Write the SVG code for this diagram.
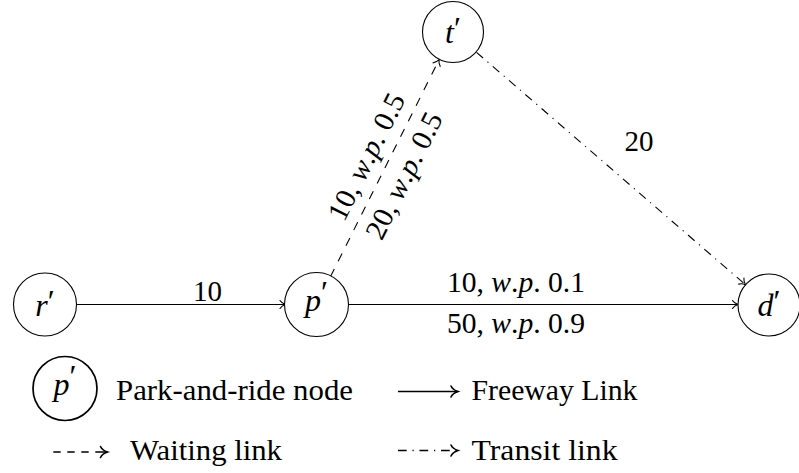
<svg xmlns="http://www.w3.org/2000/svg" width="799" height="473" viewBox="0 0 799 473">
  <defs>
    <!-- curved open arrow tip for graph edges -->
    <marker id="tip" markerUnits="userSpaceOnUse" markerWidth="12" markerHeight="12" refX="0" refY="0" orient="auto" overflow="visible">
      <path d="M-5.5,-4 C-4,-1.5 -1.2,-0.4 0,0 C-1.2,0.4 -4,1.5 -5.5,4" fill="none" stroke="#000" stroke-width="1.1" stroke-linecap="round"/>
    </marker>
    <!-- larger tip for the key arrows -->
    <marker id="tip-key" markerUnits="userSpaceOnUse" markerWidth="16" markerHeight="16" refX="0" refY="0" orient="auto" overflow="visible">
      <path d="M-7,-5.5 C-5.5,-2.2 -1.8,-0.6 0,0 C-1.8,0.6 -5.5,2.2 -7,5.5" fill="none" stroke="#000" stroke-width="1.6" stroke-linecap="round"/>
    </marker>
  </defs>

  <rect width="799" height="473" fill="#fff"/>

  <!-- connectors -->
  <g id="edges" fill="none" stroke="#000" stroke-width="1.1">
    <path id="e-r-p" d="M76,304.5 H285.5" marker-end="url(#tip)"/>
    <path id="e-p-d" d="M347.5,304.5 H738" marker-end="url(#tip)"/>
    <path id="e-p-t" d="M330.4,276.8 L439.1,59.7" stroke-dasharray="8.7 8.7" marker-end="url(#tip)"/>
    <path id="e-t-d" d="M476.5,52.3 L745.5,284.7" stroke-dasharray="8.7 5.8 1.2 5.8" marker-end="url(#tip)"/>
  </g>

  <!-- connector labels -->
  <g id="edge-labels" fill="#000">
    <text font-family="Liberation Serif" font-size="29" x="207.5" y="301" text-anchor="middle">10</text>
    <text font-family="Liberation Serif" font-size="29" x="516" y="291.5" text-anchor="middle" textLength="138" lengthAdjust="spacingAndGlyphs">10, <tspan font-style="italic">w</tspan>.<tspan font-style="italic">p</tspan>. 0.1</text>
    <text font-family="Liberation Serif" font-size="29" x="516" y="333" text-anchor="middle" textLength="138" lengthAdjust="spacingAndGlyphs">50, <tspan font-style="italic">w</tspan>.<tspan font-style="italic">p</tspan>. 0.9</text>
    <g transform="translate(385.5,168) rotate(-63.4)">
      <text font-family="Liberation Serif" font-size="29" x="1.5" y="-12.5" text-anchor="middle" textLength="138" lengthAdjust="spacingAndGlyphs">10, <tspan font-style="italic">w</tspan>.<tspan font-style="italic">p</tspan>. 0.5</text>
      <text font-family="Liberation Serif" font-size="29" x="1.5" y="29.5" text-anchor="middle" textLength="138" lengthAdjust="spacingAndGlyphs">20, <tspan font-style="italic">w</tspan>.<tspan font-style="italic">p</tspan>. 0.5</text>
    </g>
    <text font-family="Liberation Serif" font-size="29" x="639" y="151" text-anchor="middle">20</text>
  </g>

  <!-- nodes -->
  <g id="nodes" text-anchor="middle">
    <g id="node-r">
      <circle cx="45" cy="304.5" r="31.5" fill="#fff" stroke="#000" stroke-width="1.1"/>
      <text font-family="Liberation Serif" font-size="32" x="45" y="316"><tspan font-style="italic">r</tspan><tspan dy="-4">&#8242;</tspan></text>
    </g>
    <g id="node-p">
      <circle cx="316.5" cy="304.5" r="32" fill="#fff" stroke="#000" stroke-width="1.1"/>
      <text font-family="Liberation Serif" font-size="32" x="316.5" y="311"><tspan font-style="italic">p</tspan><tspan dy="-8">&#8242;</tspan></text>
    </g>
    <g id="node-t">
      <circle cx="453" cy="32" r="30.5" fill="#fff" stroke="#000" stroke-width="1.1"/>
      <text font-family="Liberation Serif" font-size="32" x="453" y="43"><tspan font-style="italic">t</tspan><tspan dy="-4">&#8242;</tspan></text>
    </g>
    <g id="node-d">
      <circle cx="769" cy="305" r="31" fill="#fff" stroke="#000" stroke-width="1.1"/>
      <text font-family="Liberation Serif" font-size="32" x="769" y="316"><tspan font-style="italic">d</tspan><tspan dy="-4">&#8242;</tspan></text>
    </g>
  </g>

  <!-- key -->
  <g id="key">
    <g id="key-node">
      <circle cx="65" cy="388.5" r="32" fill="#fff" stroke="#000" stroke-width="1.7"/>
      <text font-family="Liberation Serif" font-size="32" x="65" y="395" text-anchor="middle"><tspan font-style="italic">p</tspan><tspan dy="-8">&#8242;</tspan></text>
      <text font-family="Liberation Serif" font-size="29" x="116" y="400" textLength="237" lengthAdjust="spacingAndGlyphs">Park-and-ride node</text>
    </g>
    <g id="key-freeway">
      <path d="M398,391.5 H458" fill="none" stroke="#000" stroke-width="1.6" marker-end="url(#tip-key)"/>
      <text font-family="Liberation Serif" font-size="29" x="471.5" y="399.5" textLength="166" lengthAdjust="spacingAndGlyphs">Freeway Link</text>
    </g>
    <g id="key-waiting">
      <path d="M53.3,452 H60.7 M67.3,452 H74.7 M81.3,452 H88.7 M95.3,452 H107.5" fill="none" stroke="#000" stroke-width="1.6" marker-end="url(#tip-key)"/>
      <text font-family="Liberation Serif" font-size="29" x="130" y="459.5" textLength="152" lengthAdjust="spacingAndGlyphs">Waiting link</text>
    </g>
    <g id="key-transit">
      <path d="M398,450.5 H458" fill="none" stroke="#000" stroke-width="1.6" stroke-dasharray="8.7 5.8 1.2 5.8" marker-end="url(#tip-key)"/>
      <text font-family="Liberation Serif" font-size="29" x="471.5" y="459.5" textLength="146" lengthAdjust="spacingAndGlyphs">Transit link</text>
    </g>
  </g>
</svg>
